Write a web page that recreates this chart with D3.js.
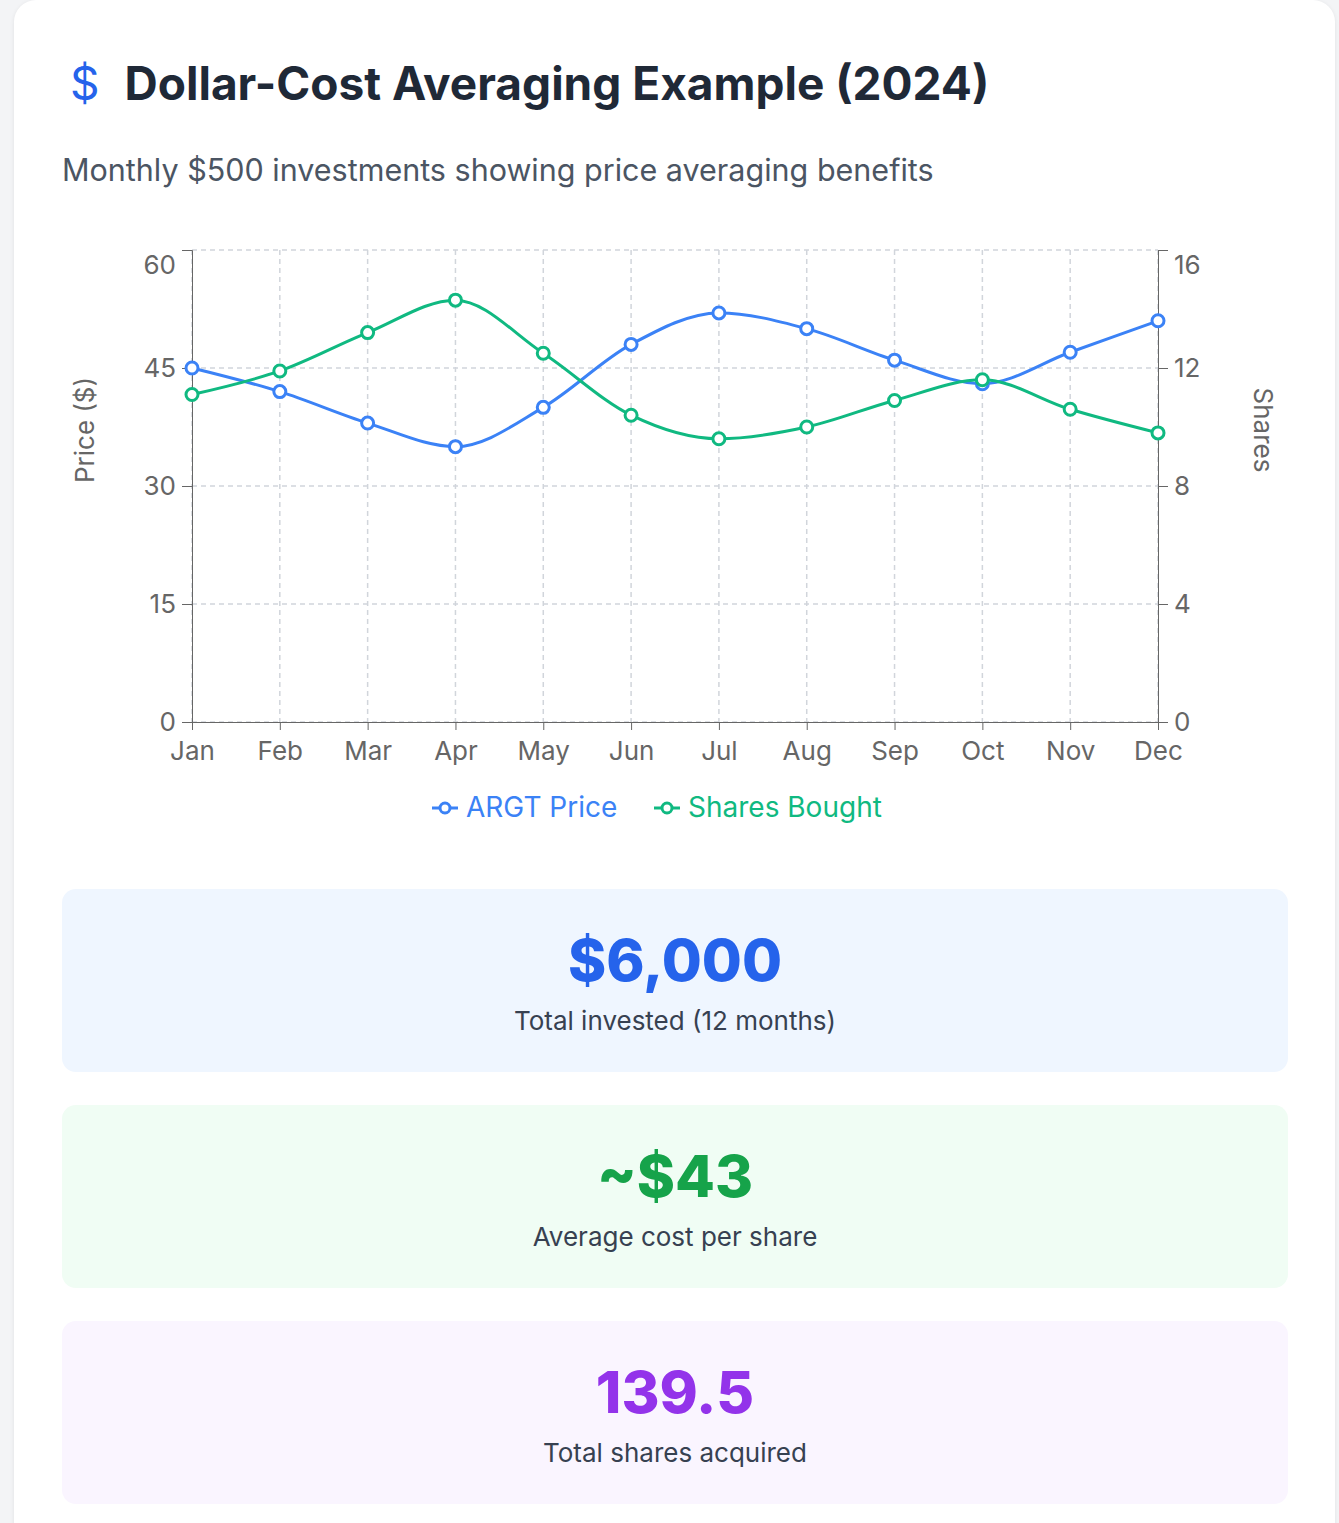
<!DOCTYPE html>
<html><head><meta charset="utf-8">
<script src="https://cdn.jsdelivr.net/npm/d3@7"></script>
<style>
body{margin:0;background:#f3f4f6;font-family:Inter,"Noto Sans",sans-serif;}
.card{position:absolute;left:14px;top:0;width:1321px;height:1560px;background:#fff;border-radius:22px;box-shadow:0 1px 4px rgba(0,0,0,0.08);}
h1{position:absolute;left:56px;top:55px;margin:0;font-size:46px;font-weight:700;color:#1f2937;}
h1 span{color:#2563eb;font-weight:400;margin-right:25px;}
.sub{position:absolute;left:48px;top:151px;font-size:30.5px;color:#4b5563;}
svg{position:absolute;left:0;top:0;}
.box{position:absolute;left:48px;width:1226px;height:183px;border-radius:14px;text-align:center;}
.box .v{font-size:58px;font-weight:800;margin-top:36px;line-height:70px;}
.box .l{font-size:26px;color:#374151;margin-top:10px;}
</style></head><body>
<div class="card">
<h1><span>$</span>Dollar-Cost Averaging Example (2024)</h1>
<div class="sub">Monthly $500 investments showing price averaging benefits</div>
<svg id="c" width="1321" height="860"></svg>
<div class="box" style="top:889px;background:#eff6ff"><div class="v" style="color:#2563eb">$6,000</div><div class="l">Total invested (12 months)</div></div>
<div class="box" style="top:1105px;background:#f0fdf4"><div class="v" style="color:#16a34a">~$43</div><div class="l">Average cost per share</div></div>
<div class="box" style="top:1321px;background:#faf5ff"><div class="v" style="color:#9333ea">139.5</div><div class="l">Total shares acquired</div></div>
</div>
<script>
const months = ["Jan","Feb","Mar","Apr","May","Jun","Jul","Aug","Sep","Oct","Nov","Dec"];
const prices = [45,42,38,35,40,48,52,50,46,43,47,51];
const shares = [11.1,11.9,13.2,14.3,12.5,10.4,9.6,10.0,10.9,11.6,10.6,9.8];
const priceTicks = [0,15,30,45,60];
const shareTicks = [0,4,8,12,16];

const svg = d3.select("#c");
const pLeft = 178, pRight = 1144, pTop = 250, pBottom = 722;
const x = d3.scalePoint().domain(months).range([pLeft, pRight]);
const yP = d3.scaleLinear().domain([0,60]).range([pBottom, pTop]);
const yS = d3.scaleLinear().domain([0,16]).range([pBottom, pTop]);

//Grid
const grid = svg.append("g").attr("stroke","#d1d5db").attr("stroke-dasharray","5,4").attr("stroke-width",1.5);
grid.selectAll(".gx").data(months).enter().append("line")
  .attr("x1", d => x(d)).attr("x2", d => x(d)).attr("y1", pTop).attr("y2", pBottom);
grid.selectAll(".gy").data(priceTicks).enter().append("line")
  .attr("x1", pLeft).attr("x2", pRight).attr("y1", d => yP(d)).attr("y2", d => yP(d));

//Axes
const style = g => { g.selectAll("text").attr("font-size",26).attr("fill","#666").attr("font-family","Inter,sans-serif");
  g.selectAll("line,path").attr("stroke","#666"); };
// top tick label sits inside the chart (as in the reference)
const nudgeTop = (g, maxV) => g.selectAll(".tick text").filter(d => d === maxV).attr("dy","0.32em").attr("y",15)
  .attr("transform","translate(0,0)");
svg.append("g").attr("transform",`translate(${pLeft},0)`).call(d3.axisLeft(yP).tickValues(priceTicks).tickSize(10).tickPadding(6)).call(style)
  .selectAll(".tick text").filter(d => d === 60).attr("y",15);
svg.append("g").attr("transform",`translate(${pRight},0)`).call(d3.axisRight(yS).tickValues(shareTicks).tickSize(10).tickPadding(6)).call(style)
  .selectAll(".tick text").filter(d => d === 16).attr("y",15);
svg.append("g").attr("transform",`translate(0,${pBottom})`).call(d3.axisBottom(x).tickSize(8).tickPadding(12)).call(style);

svg.append("text").attr("transform",`translate(80,${(pTop+pBottom)/2-56}) rotate(-90)`).attr("text-anchor","middle")
  .attr("font-size",26).attr("fill","#666").text("Price ($)");
svg.append("text").attr("transform",`translate(1240,${(pTop+pBottom)/2-56}) rotate(90)`).attr("text-anchor","middle")
  .attr("font-size",26).attr("fill","#666").text("Shares");

function series(vals, y, color){
  const line = d3.line().x((d,i) => x(months[i])).y(d => y(d)).curve(d3.curveMonotoneX);
  svg.append("path").datum(vals).attr("d", line).attr("fill","none").attr("stroke",color).attr("stroke-width",3);
  svg.append("g").selectAll("circle").data(vals).enter().append("circle")
    .attr("cx",(d,i) => x(months[i])).attr("cy", d => y(d)).attr("r",6)
    .attr("fill","#fff").attr("stroke",color).attr("stroke-width",3);
}
series(prices, yP, "#3b82f6");
series(shares, yS, "#10b981");

//Legend
const legend = [["ARGT Price","#3b82f6",418],["Shares Bought","#10b981",640]];
legend.forEach(([t,c,lx]) => {
  const g = svg.append("g");
  g.append("line").attr("x1",lx).attr("x2",lx+26).attr("y1",808).attr("y2",808).attr("stroke",c).attr("stroke-width",3);
  g.append("circle").attr("cx",lx+13).attr("cy",808).attr("r",5).attr("fill","#fff").attr("stroke",c).attr("stroke-width",3);
  g.append("text").attr("x",lx+34).attr("y",817).attr("font-size",28).attr("fill",c).text(t);
});
</script>
</body></html>
